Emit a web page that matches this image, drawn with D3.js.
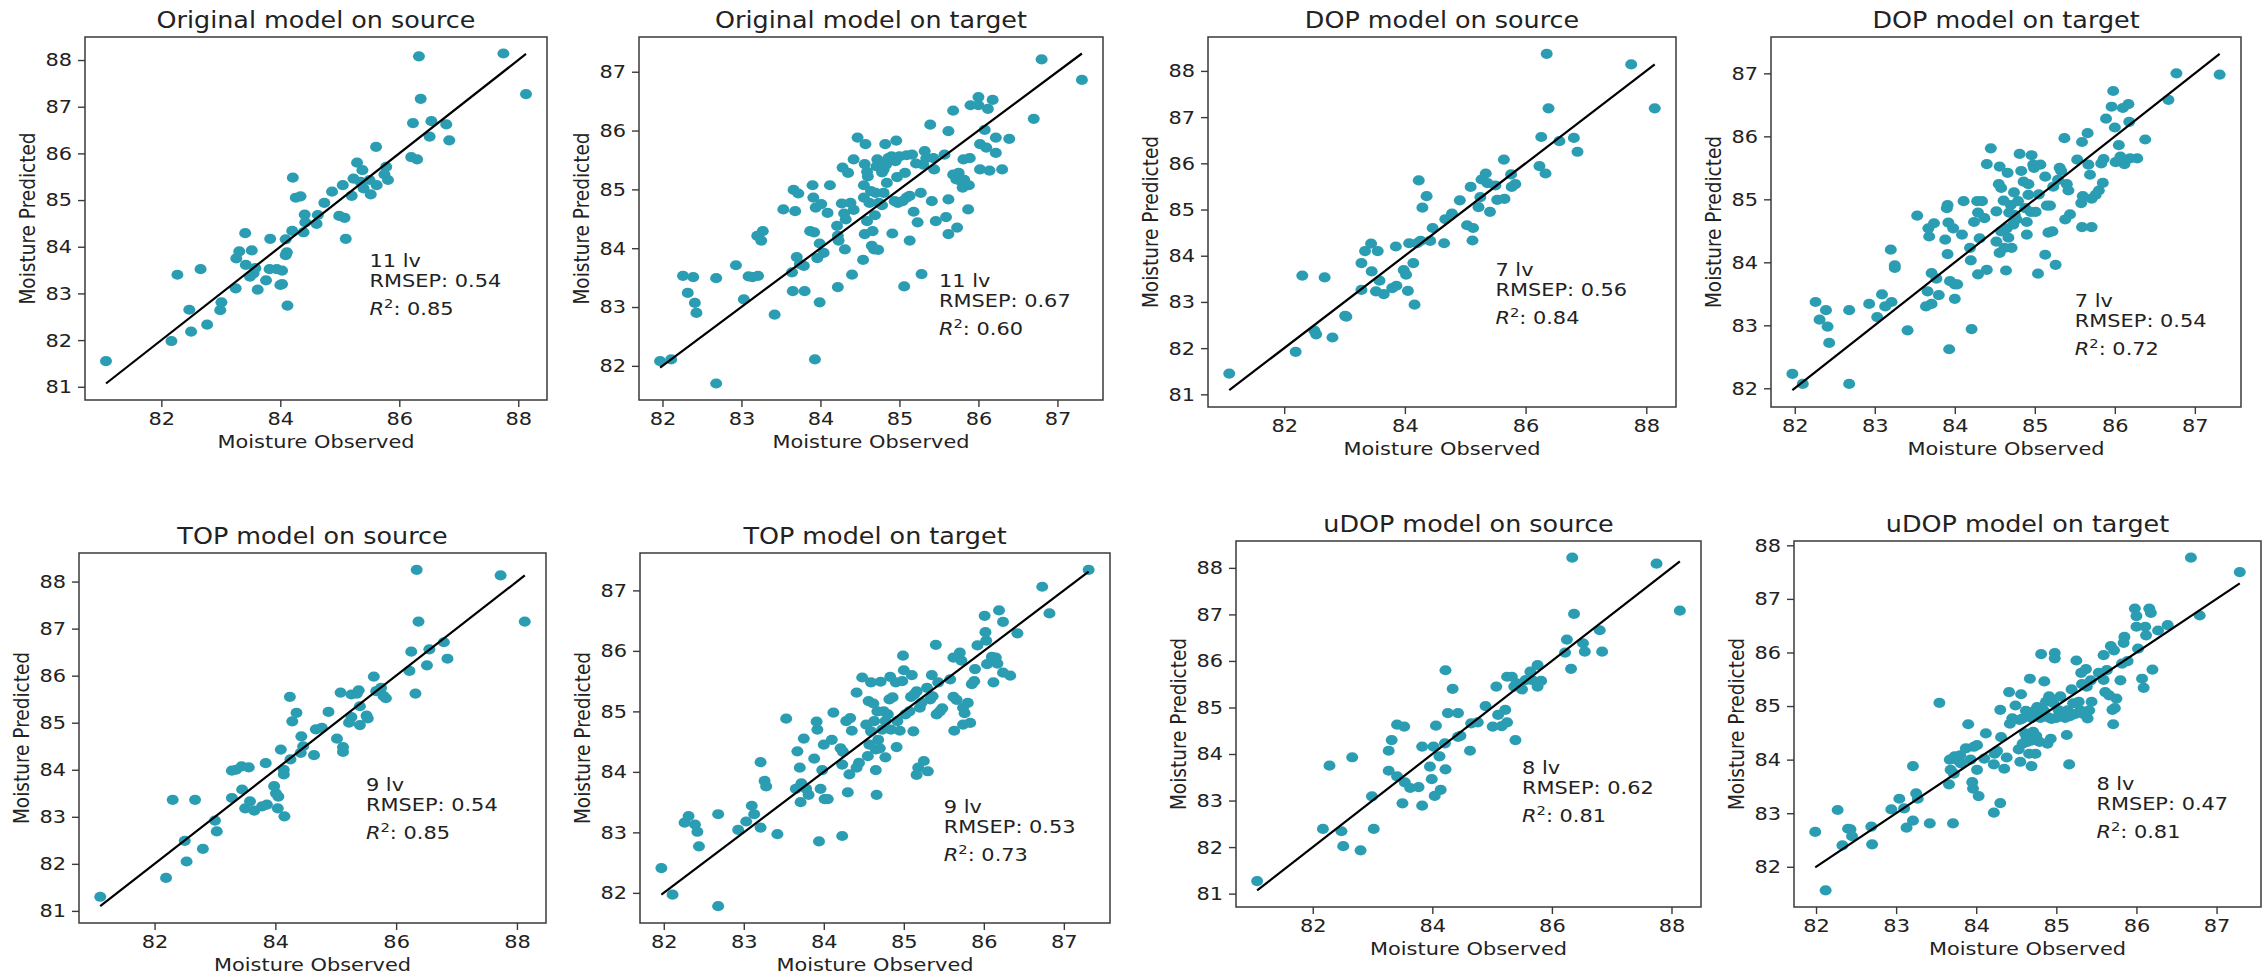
<!DOCTYPE html>
<html>
<head>
<meta charset="utf-8">
<script src="https://cdn.jsdelivr.net/npm/d3@7"></script>
<style>
  body { margin: 0; background: #fff; }
  svg { display: block; font-family: "DejaVu Sans", sans-serif; }
</style>
</head>
<body>
<div id="grid"></div>
<script>

// ---- data: [observed, predicted] pairs for each model / set ----
var titles = ["Original model on source", "Original model on target", "DOP model on source", "DOP model on target",
              "TOP model on source", "TOP model on target", "uDOP model on source", "uDOP model on target"];
var latentVars = [11, 11, 7, 7, 9, 9, 8, 8];
var rmsep = [0.54, 0.67, 0.56, 0.54, 0.54, 0.53, 0.62, 0.47];
var r2 = [0.85, 0.60, 0.84, 0.72, 0.85, 0.73, 0.81, 0.81];

var sourceXTicks = [82, 84, 86, 88];
var sourceYTicks = [81, 82, 83, 84, 85, 86, 87, 88];
var targetXTicks = [82, 83, 84, 85, 86, 87];
var targetYTicks = [82, 83, 84, 85, 86, 87];
var udopTargetYTicks = [82, 83, 84, 85, 86, 87, 88];

var origSource = [[81.07,81.55],[82.17,81.98],[82.27,83.40],[82.47,82.65],[82.50,82.18],[82.66,83.52],[82.77,82.33],[82.99,82.64],[83.01,82.81],[83.25,83.11],[83.26,83.75],[83.31,83.90],[83.41,84.29],[83.42,83.61],[83.49,83.36],[83.52,83.92],[83.55,83.43],[83.58,83.54],[83.62,83.08],[83.76,83.28],[83.82,83.52],[83.83,84.17],[83.94,83.52],[84.00,83.18],[84.03,83.20],[84.03,83.49],[84.09,83.82],[84.11,83.88],[84.12,82.74],[84.09,84.16],[84.20,84.34],[84.21,85.48],[84.26,85.05],[84.34,85.08],[84.39,84.31],[84.41,84.69],[84.42,84.52],[84.61,84.49],[84.63,84.68],[84.74,84.94],[84.87,85.18],[84.99,84.66],[85.05,85.32],[85.08,84.62],[85.10,84.17],[85.20,85.09],[85.23,85.46],[85.29,85.80],[85.35,85.39],[85.38,85.64],[85.40,85.25],[85.50,85.43],[85.52,85.12],[85.61,86.14],[85.62,85.32],[85.75,85.55],[85.78,85.71],[85.81,85.43],[86.20,85.92],[86.23,86.65],[86.30,85.87],[86.33,88.08],[86.36,87.17],[86.51,86.36],[86.54,86.69],[86.79,86.62],[86.84,86.28],[87.75,88.14],[88.13,87.27]];

var origTarget = [[81.97,82.08],[82.11,82.11],[82.26,83.53],[82.32,83.24],[82.39,83.51],[82.41,83.07],[82.43,82.90],[82.68,81.70],[82.68,83.49],[82.93,83.71],[83.03,83.13],[83.09,83.52],[83.14,83.51],[83.21,83.53],[83.20,84.21],[83.25,84.13],[83.27,84.29],[83.42,82.87],[83.53,84.66],[83.64,83.59],[83.65,83.27],[83.66,84.99],[83.68,84.63],[83.70,83.85],[83.72,84.93],[83.74,83.73],[83.80,83.27],[83.79,83.70],[83.87,84.29],[83.90,85.07],[83.91,84.86],[83.92,84.27],[83.93,82.11],[83.94,84.69],[83.96,83.83],[83.99,83.08],[84.01,84.75],[83.99,84.08],[84.04,83.92],[84.09,84.60],[84.12,85.07],[84.21,84.38],[84.22,83.34],[84.22,84.21],[84.23,84.13],[84.27,84.76],[84.28,85.37],[84.30,84.59],[84.31,83.98],[84.32,84.49],[84.35,85.28],[84.38,84.77],[84.40,83.55],[84.42,84.65],[84.42,85.51],[84.47,85.88],[84.54,83.80],[84.55,85.07],[84.55,84.86],[84.56,84.24],[84.56,85.43],[84.57,85.77],[84.59,85.30],[84.59,84.46],[84.60,85.22],[84.62,84.77],[84.64,84.97],[84.65,84.04],[84.66,84.29],[84.68,83.98],[84.69,84.56],[84.70,84.94],[84.71,85.39],[84.72,85.51],[84.73,83.97],[84.74,84.77],[84.78,84.73],[84.78,85.29],[84.80,84.94],[84.80,85.34],[84.82,85.77],[84.83,85.42],[84.84,85.11],[84.86,85.53],[84.90,85.56],[84.91,84.25],[84.94,84.80],[84.95,85.48],[84.96,85.83],[84.97,85.21],[84.98,84.77],[85.00,85.56],[85.04,84.80],[85.06,83.35],[85.07,85.28],[85.09,85.58],[85.09,84.86],[85.13,84.13],[85.13,84.89],[85.16,85.59],[85.18,84.62],[85.21,85.44],[85.23,84.44],[85.27,84.94],[85.28,83.56],[85.30,85.42],[85.32,85.65],[85.34,85.53],[85.39,86.10],[85.41,84.80],[85.43,85.53],[85.44,85.34],[85.46,84.46],[85.57,85.59],[85.59,84.53],[85.62,84.83],[85.62,84.24],[85.62,85.99],[85.68,86.34],[85.68,85.25],[85.72,85.17],[85.73,84.35],[85.75,85.28],[85.78,85.14],[85.80,85.03],[85.81,85.51],[85.82,85.16],[85.87,84.66],[85.88,85.07],[85.89,85.53],[85.90,86.43],[86.00,86.57],[86.00,86.43],[86.02,85.77],[86.02,85.34],[86.08,86.01],[86.10,85.71],[86.12,86.37],[86.14,85.32],[86.18,86.52],[86.22,85.88],[86.22,85.62],[86.30,85.34],[86.39,85.86],[86.70,86.20],[86.80,87.21],[87.31,86.86]];

var dopSource = [[81.09,81.45],[82.19,81.92],[82.30,83.57],[82.50,82.38],[82.53,82.30],[82.67,83.53],[82.80,82.23],[83.01,82.70],[83.03,82.68],[83.28,83.84],[83.28,83.26],[83.34,84.10],[83.44,84.26],[83.45,83.66],[83.52,83.23],[83.55,84.10],[83.58,83.46],[83.65,83.17],[83.79,83.30],[83.85,84.20],[83.86,83.35],[83.98,83.69],[84.02,83.59],[84.05,83.24],[84.07,84.27],[84.14,83.84],[84.16,82.94],[84.20,84.27],[84.23,85.63],[84.29,85.04],[84.26,84.32],[84.36,85.29],[84.42,84.32],[84.46,84.60],[84.65,84.27],[84.67,84.79],[84.78,84.91],[84.91,85.20],[85.03,84.66],[85.09,85.49],[85.13,84.60],[85.12,84.33],[85.22,85.05],[85.25,85.27],[85.27,85.65],[85.34,85.78],[85.37,85.57],[85.41,84.95],[85.50,85.52],[85.53,85.21],[85.64,86.08],[85.65,85.23],[85.76,85.76],[85.77,85.49],[85.83,85.55],[86.23,85.94],[86.26,86.57],[86.33,85.78],[86.35,88.37],[86.38,87.19],[86.56,86.48],[86.80,86.55],[86.86,86.25],[87.75,88.14],[88.14,87.19]];

var dopTarget = [[81.97,82.23],[82.10,82.07],[82.26,83.37],[82.31,83.09],[82.39,83.24],[82.41,82.98],[82.43,82.72],[82.68,83.24],[82.68,82.07],[82.93,83.34],[83.03,83.13],[83.09,83.49],[83.13,83.30],[83.21,83.37],[83.20,84.20],[83.25,83.91],[83.25,83.95],[83.41,82.92],[83.53,84.74],[83.64,83.30],[83.66,83.54],[83.67,84.54],[83.68,84.41],[83.71,83.83],[83.71,83.34],[83.74,84.62],[83.77,83.74],[83.80,83.48],[83.88,84.36],[83.90,84.86],[83.91,84.91],[83.91,84.13],[83.92,84.63],[83.93,82.62],[83.94,83.70],[83.98,84.54],[84.00,83.42],[84.00,83.65],[84.03,83.65],[84.09,84.44],[84.11,84.97],[84.19,84.23],[84.20,84.03],[84.21,82.94],[84.24,84.64],[84.28,84.97],[84.29,84.79],[84.29,83.81],[84.31,84.38],[84.34,84.97],[84.37,84.70],[84.40,85.56],[84.40,83.88],[84.45,85.81],[84.52,84.81],[84.52,84.33],[84.55,85.24],[84.56,85.52],[84.56,84.15],[84.58,84.49],[84.58,85.18],[84.61,84.98],[84.62,84.23],[84.64,83.87],[84.65,84.54],[84.66,85.42],[84.67,84.39],[84.68,84.79],[84.70,84.91],[84.71,84.23],[84.73,84.60],[84.74,85.11],[84.75,84.75],[84.77,84.68],[84.79,84.97],[84.81,85.72],[84.83,85.45],[84.86,85.28],[84.88,84.86],[84.90,84.64],[84.90,84.44],[84.92,85.24],[84.92,85.07],[84.95,84.80],[84.96,85.70],[84.98,85.55],[84.99,85.50],[85.01,84.80],[85.04,83.82],[85.05,85.08],[85.07,85.55],[85.13,84.12],[85.13,85.36],[85.15,84.90],[85.17,84.47],[85.19,84.90],[85.22,84.49],[85.23,85.20],[85.26,83.96],[85.29,85.31],[85.31,85.50],[85.33,85.45],[85.37,85.97],[85.38,84.68],[85.40,85.24],[85.42,85.14],[85.44,84.76],[85.53,85.63],[85.58,84.94],[85.59,85.91],[85.59,84.56],[85.60,85.05],[85.66,86.05],[85.67,85.55],[85.69,85.39],[85.71,84.56],[85.71,85.01],[85.76,85.07],[85.80,85.14],[85.83,85.57],[85.85,85.26],[85.86,85.64],[85.89,86.28],[85.96,86.47],[85.98,86.72],[86.00,86.14],[86.01,85.59],[86.05,85.86],[86.07,85.68],[86.10,86.45],[86.12,85.56],[86.17,86.51],[86.18,86.23],[86.19,85.65],[86.28,85.65],[86.38,85.95],[86.67,86.58],[86.77,87.00],[87.31,86.98]];

var topSource = [[81.10,81.30],[82.19,81.70],[82.30,83.36],[82.50,82.49],[82.53,82.05],[82.67,83.36],[82.80,82.32],[83.00,82.92],[83.03,82.69],[83.28,83.40],[83.28,83.98],[83.35,84.00],[83.44,84.07],[83.45,83.58],[83.50,83.18],[83.56,84.05],[83.58,83.33],[83.65,83.13],[83.78,83.22],[83.84,84.14],[83.86,83.26],[83.98,83.65],[84.01,83.50],[84.04,83.18],[84.05,83.43],[84.09,84.43],[84.14,84.00],[84.15,83.01],[84.14,83.90],[84.24,85.55],[84.25,84.22],[84.28,85.03],[84.35,85.21],[84.42,84.36],[84.43,84.71],[84.46,84.50],[84.64,84.31],[84.67,84.86],[84.77,84.89],[84.88,85.23],[85.02,84.66],[85.08,85.64],[85.12,84.48],[85.12,84.38],[85.22,85.00],[85.26,85.12],[85.26,85.60],[85.35,85.62],[85.38,85.69],[85.40,85.35],[85.40,84.95],[85.51,85.15],[85.53,85.09],[85.63,85.98],[85.67,85.67],[85.75,85.74],[85.79,85.57],[85.83,85.52],[86.22,86.10],[86.25,86.51],[86.32,85.62],[86.34,88.25],[86.37,87.15],[86.51,86.22],[86.55,86.56],[86.79,86.71],[86.85,86.36],[87.73,88.13],[88.13,87.15]];

var topTarget = [[81.97,82.41],[82.11,81.97],[82.26,83.16],[82.31,83.27],[82.39,83.13],[82.42,83.01],[82.44,82.77],[82.68,81.78],[82.68,83.30],[82.93,83.04],[83.03,83.18],[83.10,83.44],[83.13,83.30],[83.21,83.08],[83.21,84.16],[83.26,83.85],[83.28,83.76],[83.42,82.97],[83.53,84.88],[83.65,83.72],[83.67,84.34],[83.70,84.07],[83.71,83.50],[83.72,83.81],[83.75,84.55],[83.78,83.72],[83.81,83.62],[83.88,84.22],[83.91,84.83],[83.92,84.70],[83.94,82.85],[83.96,83.72],[83.98,84.03],[84.00,84.45],[84.01,83.55],[84.05,83.55],[84.10,84.53],[84.12,84.98],[84.21,84.39],[84.23,84.12],[84.23,82.94],[84.24,84.33],[84.28,84.84],[84.30,83.66],[84.32,83.96],[84.33,84.89],[84.35,84.68],[84.41,85.31],[84.41,84.07],[84.44,84.15],[84.48,85.56],[84.53,84.78],[84.55,84.26],[84.56,85.17],[84.57,84.45],[84.59,85.48],[84.59,84.67],[84.62,85.13],[84.63,84.84],[84.65,84.37],[84.65,84.03],[84.66,83.62],[84.67,85.00],[84.68,84.53],[84.70,84.39],[84.71,85.49],[84.73,84.70],[84.75,85.00],[84.77,84.24],[84.77,84.84],[84.80,84.95],[84.82,85.20],[84.83,85.57],[84.84,84.70],[84.86,85.23],[84.90,85.48],[84.91,84.41],[84.92,84.84],[84.95,84.68],[84.98,85.50],[84.99,85.92],[85.00,85.68],[85.02,84.95],[85.07,85.00],[85.09,85.24],[85.10,85.60],[85.12,84.67],[85.13,85.28],[85.16,83.95],[85.16,85.33],[85.18,84.07],[85.20,85.06],[85.22,85.14],[85.25,84.18],[85.29,85.39],[85.30,84.01],[85.33,85.20],[85.35,85.60],[85.36,85.25],[85.40,86.10],[85.41,84.95],[85.43,85.48],[85.45,85.00],[85.48,85.05],[85.58,85.53],[85.62,85.89],[85.62,85.24],[85.63,84.68],[85.66,85.19],[85.70,85.97],[85.72,85.84],[85.74,85.06],[85.74,84.78],[85.76,84.97],[85.80,85.14],[85.83,84.81],[85.85,85.45],[85.88,85.50],[85.89,85.70],[85.92,86.09],[86.01,86.58],[86.02,86.31],[86.03,86.17],[86.04,85.78],[86.10,85.90],[86.12,85.48],[86.15,85.89],[86.17,85.79],[86.19,86.67],[86.24,86.48],[86.24,85.64],[86.33,85.59],[86.42,86.29],[86.73,87.06],[86.82,86.62],[87.31,87.34]];

var udopSource = [[81.07,81.27],[82.17,82.39],[82.28,83.75],[82.48,82.34],[82.51,82.02],[82.66,83.93],[82.80,81.93],[82.99,83.09],[83.02,82.39],[83.27,84.07],[83.27,83.64],[83.32,84.30],[83.41,84.63],[83.41,83.52],[83.53,84.59],[83.50,82.94],[83.54,83.39],[83.63,83.27],[83.77,83.29],[83.83,84.16],[83.83,82.89],[83.96,83.73],[83.99,83.46],[84.02,84.16],[84.04,83.10],[84.06,84.61],[84.12,83.95],[84.14,83.23],[84.22,85.80],[84.21,84.23],[84.22,83.67],[84.26,84.88],[84.34,85.40],[84.43,84.88],[84.43,84.37],[84.47,84.39],[84.63,84.07],[84.65,84.66],[84.76,84.68],[84.89,85.03],[85.01,84.59],[85.07,85.45],[85.10,84.84],[85.16,84.60],[85.22,84.95],[85.25,84.68],[85.25,85.66],[85.33,85.66],[85.39,84.30],[85.37,85.45],[85.41,85.52],[85.50,85.39],[85.56,85.59],[85.64,85.77],[85.67,85.59],[85.76,85.91],[85.76,85.45],[85.82,85.57],[86.22,86.18],[86.25,86.46],[86.32,85.83],[86.34,88.22],[86.37,87.01],[86.52,86.38],[86.55,86.20],[86.80,86.66],[86.84,86.20],[87.75,88.09],[88.14,87.08]];

var udopTarget = [[81.99,82.65],[82.12,81.56],[82.27,83.06],[82.33,82.40],[82.40,82.71],[82.43,82.70],[82.45,82.57],[82.69,82.75],[82.70,82.42],[82.94,83.07],[83.04,83.27],[83.10,83.09],[83.13,82.73],[83.21,82.86],[83.21,83.88],[83.25,83.37],[83.27,83.27],[83.42,82.81],[83.54,85.06],[83.66,83.54],[83.67,84.00],[83.68,83.81],[83.71,82.81],[83.72,83.74],[83.73,84.06],[83.78,83.98],[83.80,84.08],[83.81,83.93],[83.87,84.21],[83.90,84.66],[83.93,84.00],[83.95,83.58],[83.96,83.46],[83.97,84.24],[84.01,84.27],[84.01,83.81],[84.03,83.32],[84.10,84.02],[84.12,84.49],[84.22,83.01],[84.22,83.91],[84.23,84.11],[84.26,84.16],[84.30,83.19],[84.30,84.93],[84.31,84.42],[84.35,83.83],[84.38,84.04],[84.41,85.26],[84.42,84.67],[84.45,84.77],[84.49,85.01],[84.53,84.19],[84.54,84.74],[84.55,83.96],[84.56,85.22],[84.57,84.76],[84.58,84.30],[84.61,84.49],[84.62,84.91],[84.63,84.42],[84.64,84.33],[84.66,84.11],[84.67,85.51],[84.69,83.88],[84.69,84.78],[84.70,84.36],[84.71,84.52],[84.73,84.91],[84.74,84.11],[84.75,84.44],[84.76,84.98],[84.79,84.33],[84.80,84.78],[84.81,85.97],[84.84,84.92],[84.85,85.46],[84.87,85.08],[84.89,84.30],[84.90,84.79],[84.91,85.18],[84.93,84.39],[84.94,84.76],[84.96,85.06],[84.98,85.99],[84.98,85.89],[85.00,84.78],[85.03,84.92],[85.05,85.18],[85.07,84.89],[85.11,84.78],[85.13,84.46],[85.14,84.92],[85.16,83.91],[85.17,84.81],[85.19,85.31],[85.21,85.05],[85.23,84.85],[85.25,85.85],[85.28,85.08],[85.30,84.92],[85.31,85.62],[85.32,85.41],[85.33,84.86],[85.37,85.69],[85.38,85.36],[85.39,84.77],[85.41,84.92],[85.43,85.48],[85.44,85.08],[85.53,85.62],[85.59,85.95],[85.59,85.49],[85.61,85.26],[85.63,85.67],[85.66,85.20],[85.68,86.12],[85.70,84.93],[85.71,84.66],[85.72,86.04],[85.73,84.96],[85.75,85.14],[85.80,85.48],[85.82,85.79],[85.84,86.18],[85.85,86.29],[85.89,85.84],[85.98,86.82],[86.00,86.68],[86.00,86.48],[86.02,86.07],[86.07,85.51],[86.09,85.34],[86.11,86.48],[86.12,86.32],[86.16,86.82],[86.18,86.74],[86.20,85.68],[86.27,86.41],[86.39,86.51],[86.68,87.77],[86.79,86.69],[87.29,87.50]];

// ---- layout: plot frames [left, top, width, height] ----
var frames = [
  [85, 37, 462, 363], [639, 37, 464, 363], [1208, 37, 468, 370], [1771, 37, 470, 370],
  [79, 553, 467, 370], [640, 553, 470, 370], [1236, 541, 465, 366], [1794, 541, 467, 366]
];

var seriesList = [origSource, origTarget, dopSource, dopTarget, topSource, topTarget, udopSource, udopTarget];
var xTickList = [sourceXTicks, targetXTicks, sourceXTicks, targetXTicks, sourceXTicks, targetXTicks, sourceXTicks, targetXTicks];
var yTickList = [sourceYTicks, targetYTicks, sourceYTicks, targetYTicks, sourceYTicks, targetYTicks, sourceYTicks, udopTargetYTicks];

var dotColor = "#2b9db3",
    textColor = "#222",
    axisColor = "#3a3a3a",
    stretch = 1.13;   // text in the figure is drawn slightly wide

var svg = d3.select("#grid")
    .append("svg")
    .attr("width", 2267)
    .attr("height", 975);

svg.append("rect").attr("width", 2267).attr("height", 975).attr("fill", "#fff");

// matplotlib-style 5% margin around the data
function padded(ext) {
    var m = (ext[1] - ext[0]) * 0.05;
    return [ext[0] - m, ext[1] + m];
}

seriesList.forEach(function(pts, i) {
    var L = frames[i][0], T = frames[i][1], W = frames[i][2], H = frames[i][3];

    var xExt = d3.extent(pts, function(d) { return d[0]; });
    var yExt = d3.extent(pts.map(function(d) { return d[1]; }).concat(xExt));

    var x = d3.scaleLinear().domain(padded(xExt)).range([L, L + W]);
    var y = d3.scaleLinear().domain(padded(yExt)).range([T + H, T]);

    var g = svg.append("g");

    // scatter
    g.selectAll("ellipse")
        .data(pts)
        .enter().append("ellipse")
        .attr("cx", function(d) { return x(d[0]); })
        .attr("cy", function(d) { return y(d[1]); })
        .attr("rx", 6)
        .attr("ry", 5.1)
        .style("fill", dotColor);

    // observed = predicted line
    g.append("line")
        .attr("x1", x(xExt[0])).attr("y1", y(xExt[0]))
        .attr("x2", x(xExt[1])).attr("y2", y(xExt[1]))
        .style("stroke", "#000")
        .style("stroke-width", 2.2);

    // X axis
    var xAxis = g.append("g")
        .attr("transform", "translate(0," + (T + H) + ")")
        .call(d3.axisBottom(x).tickValues(xTickList[i]).tickSize(7).tickPadding(5).tickFormat(d3.format("d")));

    // Y axis
    var yAxis = g.append("g")
        .attr("transform", "translate(" + L + ",0)")
        .call(d3.axisLeft(y).tickValues(yTickList[i]).tickSize(7).tickPadding(4.5).tickFormat(d3.format("d")));

    [xAxis, yAxis].forEach(function(ax) {
        ax.select(".domain").remove();
        ax.selectAll("line").style("stroke", axisColor).style("stroke-width", 1.4);
        ax.selectAll("text")
            .attr("transform", "scale(" + stretch + ",1)")
            .style("font-family", '"DejaVu Sans", sans-serif')
            .style("font-size", "18.5px")
            .style("fill", textColor);
    });

    // frame
    g.append("rect")
        .attr("x", L).attr("y", T)
        .attr("width", W).attr("height", H)
        .style("fill", "none")
        .style("stroke", axisColor)
        .style("stroke-width", 1.5);

    // title
    g.append("text")
        .attr("transform", "translate(" + (L + W / 2) + "," + (T - 9) + ") scale(" + stretch + ",1)")
        .attr("text-anchor", "middle")
        .style("font-size", "22.5px")
        .style("fill", textColor)
        .text(titles[i]);

    // axis labels
    g.append("text")
        .attr("transform", "translate(" + (L + W / 2) + "," + (T + H + 48) + ") scale(" + stretch + ",1)")
        .attr("text-anchor", "middle")
        .style("font-size", "18.5px")
        .style("fill", textColor)
        .text("Moisture Observed");

    g.append("text")
        .attr("transform", "translate(" + (L - 50) + "," + (T + H / 2) + ") scale(" + stretch + ",1) rotate(-90)")
        .attr("text-anchor", "middle")
        .style("font-size", "18.5px")
        .style("fill", textColor)
        .text("Moisture Predicted");

    // model summary
    var ax = x(85.5), ay = y(82.53);
    var note = g.append("g")
        .attr("transform", "translate(" + ax + "," + ay + ") scale(" + stretch + ",1)")
        .style("font-size", "18.5px")
        .style("fill", textColor);

    note.append("text").attr("y", -48).text(latentVars[i] + " lv");
    note.append("text").attr("y", -28).text("RMSEP: " + rmsep[i].toFixed(2));

    var r2Text = note.append("text").attr("y", 0);
    r2Text.append("tspan").style("font-style", "italic").text("R");
    r2Text.append("tspan").attr("dy", -7).style("font-size", "13px").text("2");
    r2Text.append("tspan").attr("dy", 7).text(": " + r2[i].toFixed(2));
});

</script>
</body>
</html>
